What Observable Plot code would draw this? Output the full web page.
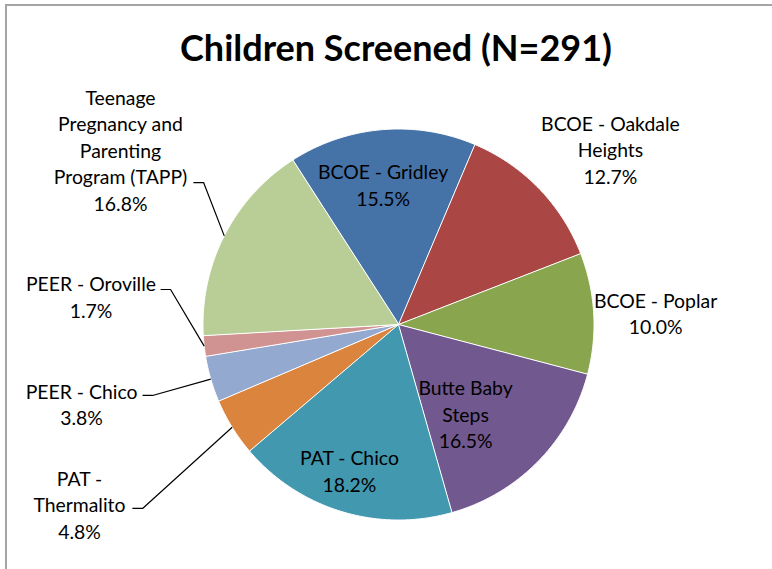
<!DOCTYPE html>
<html>
<head>
<meta charset="utf-8">
<script src="https://cdn.jsdelivr.net/npm/d3@7"></script>
<script src="https://cdn.jsdelivr.net/npm/@observablehq/plot@0.6"></script>
<style>
  html, body { margin: 0; padding: 0; background: #fff; overflow: hidden; }
  #wrap { position: relative; width: 772px; height: 569px; overflow: hidden; background: #fff; }
  #frame { position: absolute; left: 5px; top: 4px; width: 900px; height: 700px;
           border-top: 2px solid #a5a5a5; border-left: 2px solid #a5a5a5;
           box-sizing: border-box; pointer-events: none; }
  #title { position: absolute; left: 0; width: 792px; top: 26px; text-align: center;
           font-family: Lato, "Liberation Sans", sans-serif; font-weight: bold;
           font-size: 36px; line-height: 1.2; color: #000; white-space: nowrap; }
  #chart { position: absolute; left: 0; top: 0; }
</style>
</head>
<body>
<div id="wrap">
  <div id="chart"></div>
  <div id="frame"></div>
  <div id="title">Children Screened (N=291)</div>
</div>
<script>
// ---- data ----
const names = [
  "BCOE - Gridley",
  "BCOE - Oakdale Heights",
  "BCOE - Poplar",
  "Butte Baby Steps",
  "PAT - Chico",
  "PAT - Thermalito",
  "PEER - Chico",
  "PEER - Oroville",
  "Teenage Pregnancy and Parenting Program (TAPP)"
];
const percents = [15.5, 12.7, 10.0, 16.5, 18.2, 4.8, 3.8, 1.7, 16.8];
const labelText = [
  "BCOE - Gridley",
  "BCOE - Oakdale\nHeights",
  "BCOE - Poplar",
  "Butte Baby\nSteps",
  "PAT - Chico",
  "PAT -\nThermalito",
  "PEER - Chico",
  "PEER - Oroville",
  "Teenage\nPregnancy and\nParenting\nProgram (TAPP)"
];
const colors = ["#4572A7", "#AA4643", "#89A54E", "#71588F", "#4198AF",
                "#DB843D", "#93A9CF", "#D19392", "#B9CD96"];

// ---- layout (in pie-radius units, relative to the pie centre) ----
const firstSliceDeg = -32.8;   // clockwise from 12 o'clock
const labelPos = [
  [-0.079, -0.719], [1.084, -0.900], [1.315, -0.061], [0.343, 0.455],
  [-0.251, 0.744], [-1.632, 0.916], [-1.621, 0.404], [-1.573, -0.146],
  [-1.422, -0.897]
];
// leader line label-side points: [xStart, xElbow, y]  (null = no leader)
const leaderFrom = [null, null, null, null, null,
  [-1.361, -1.309, 0.941], [-1.309, -1.258, 0.363], [-1.217, -1.166, -0.179],
  [-1.049, -0.997, -0.726]];

const cx = 398, cy = 324, R = 195.5;
const fontFamily = "Lato, 'Liberation Sans', sans-serif";
const fs = 19.4;

const total = d3.sum(percents);
const rad = (d) => d * Math.PI / 180;
const onCircle = (deg, r) => [r * Math.sin(rad(deg)), -r * Math.cos(rad(deg))];

let acc = firstSliceDeg;
const slices = names.map((name, i) => {
  const a0 = acc, a1 = acc + percents[i] / total * 360;
  acc = a1;
  return {name, i, a0, a1, mid: (a0 + a1) / 2};
});

const wedgePts = slices.flatMap((s) => {
  const n = Math.max(2, Math.ceil((s.a1 - s.a0) / 0.5));
  const pts = [{name: s.name, x: 0, y: 0}];
  for (let k = 0; k <= n; ++k) {
    const [x, y] = onCircle(s.a0 + (s.a1 - s.a0) * k / n, 1);
    pts.push({name: s.name, x, y});
  }
  return pts;
});

const labels = slices.map((s) => ({
  name: s.name,
  x: labelPos[s.i][0],
  y: labelPos[s.i][1],
  text: labelText[s.i] + "\n" + percents[s.i].toFixed(1) + "%"
}));

const leaders = slices.filter((s) => leaderFrom[s.i]).flatMap((s) => {
  const [xs, xe, y] = leaderFrom[s.i];
  const [ex, ey] = onCircle(s.mid, 1);
  return [
    {name: s.name, x: xs, y},
    {name: s.name, x: xe, y},
    {name: s.name, x: ex, y: ey}
  ];
});

const chart = Plot.plot({
  width: 772,
  height: 569,
  margin: 0,
  x: {domain: [-1, 1], range: [cx - R, cx + R], axis: null},
  y: {domain: [-1, 1], range: [cy - R, cy + R], axis: null},
  color: {domain: names, range: colors},
  style: {background: "transparent", fontFamily},
  marks: [
    Plot.line(wedgePts, {x: "x", y: "y", z: "name", fill: "name", stroke: "white",
      strokeWidth: 1, strokeLinejoin: "round", curve: "linear-closed"}),
    Plot.line(leaders, {x: "x", y: "y", z: "name", stroke: "black", strokeWidth: 1.2,
      strokeLinecap: "butt", strokeLinejoin: "miter"}),
    Plot.text(labels, {x: "x", y: "y", text: "text", fontSize: fs, lineHeight: 26.5 / fs,
      fill: "black", textAnchor: "middle", lineAnchor: "middle", fontFamily})
  ]
});
document.getElementById("chart").appendChild(chart);
</script>
</body>
</html>
